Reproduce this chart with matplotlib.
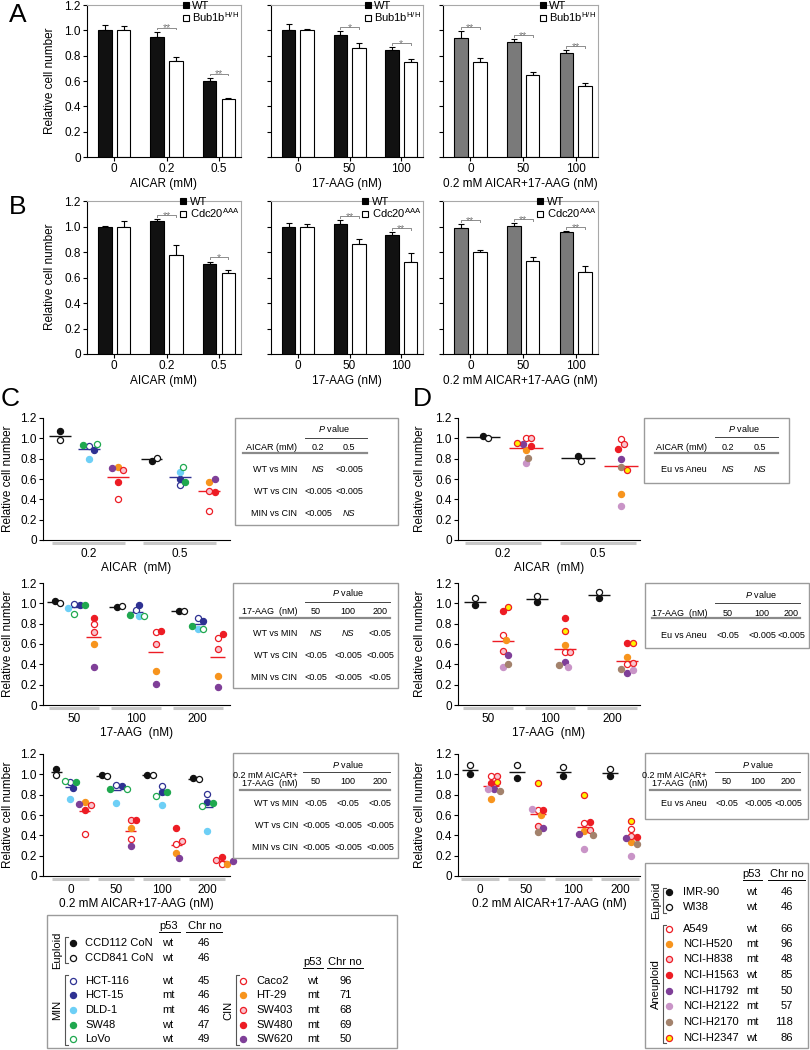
import numpy as np
import matplotlib
matplotlib.use("Agg")
import matplotlib.pyplot as plt
import matplotlib.transforms as mtransforms
from matplotlib.lines import Line2D
from matplotlib.patches import Rectangle

plt.rcParams["font.family"] = ["Liberation Sans", "DejaVu Sans"]
plt.rcParams["mathtext.fontset"] = "custom"
plt.rcParams["mathtext.rm"] = "Liberation Sans"
plt.rcParams["mathtext.it"] = "Liberation Sans:italic"
plt.rcParams["axes.linewidth"] = 0.8

# ------------------------------------------------------------
# Data: bar panels A / B
# ------------------------------------------------------------
AICAR_DOSES = ["0", "0.2", "0.5"]
AAG_DOSES = ["0", "50", "100"]

A1_WT = [1.005, 0.95, 0.60]
A1_WT_ERR = [0.035, 0.04, 0.027]
A1_MUT = [1.005, 0.757, 0.456]
A1_MUT_ERR = [0.027, 0.029, 0.013]
A1_SIG = ["", "**", "**"]

A2_WT = [1.005, 0.96, 0.845]
A2_WT_ERR = [0.043, 0.037, 0.025]
A2_MUT = [1.005, 0.862, 0.75]
A2_MUT_ERR = [0.008, 0.035, 0.025]
A2_SIG = ["", "*", "*"]

A3_WT = [0.936, 0.91, 0.823]
A3_WT_ERR = [0.06, 0.023, 0.021]
A3_MUT = [0.749, 0.649, 0.564]
A3_MUT_ERR = [0.031, 0.023, 0.021]
A3_SIG = ["**", "**", "**"]

B1_WT = [1.00, 1.04, 0.706]
B1_WT_ERR = [0.003, 0.017, 0.019]
B1_MUT = [1.00, 0.777, 0.634]
B1_MUT_ERR = [0.04, 0.078, 0.021]
B1_SIG = ["", "**", "*"]

B2_WT = [1.00, 1.016, 0.93]
B2_WT_ERR = [0.025, 0.034, 0.023]
B2_MUT = [1.00, 0.86, 0.722]
B2_MUT_ERR = [0.018, 0.04, 0.068]
B2_SIG = ["", "**", "**"]

B3_WT = [0.99, 1.003, 0.958]
B3_WT_ERR = [0.028, 0.026, 0.008]
B3_MUT = [0.803, 0.732, 0.644]
B3_MUT_ERR = [0.013, 0.032, 0.05]
B3_SIG = ["**", "**", "**"]

# ------------------------------------------------------------
# Data: colon lines (C)
# ------------------------------------------------------------
C_LINES = ["CCD112 CoN", "CCD841 CoN", "HCT-116", "HCT-15", "DLD-1", "SW48",
           "LoVo", "Caco2", "HT-29", "SW403", "SW480", "SW620"]
C_CLASS = ["Euploid", "Euploid", "MIN", "MIN", "MIN", "MIN", "MIN",
           "CIN", "CIN", "CIN", "CIN", "CIN"]
C_P53 = ["wt", "wt", "wt", "mt", "mt", "wt", "wt", "wt", "mt", "mt", "mt", "mt"]
C_CHR = [46, 46, 45, 46, 46, 47, 49, 96, 71, 68, 69, 50]

C1_DOSES = ["0.2", "0.5"]
C1_VALUES = [
    [1.07, 0.98, 0.92, 0.89, 0.80, 0.93, 0.94, 0.40, 0.72, 0.69, 0.57, 0.71],
    [0.78, 0.81, 0.54, 0.60, 0.67, 0.57, 0.72, 0.29, 0.57, 0.48, 0.47, 0.60],
]
C2_DOSES = ["50", "100", "200"]
C2_VALUES = [
    [1.02, 1.00, 0.99, 0.98, 0.95, 0.98, 0.90, 0.80, 0.60, 0.72, 0.86, 0.37],
    [0.96, 0.97, 0.93, 0.98, 0.88, 0.89, 0.875, 0.72, 0.33, 0.60, 0.73, 0.21],
    [0.92, 0.92, 0.86, 0.83, 0.75, 0.78, 0.75, 0.66, 0.29, 0.55, 0.70, 0.18],
]
C3_DOSES = ["0", "50", "100", "200"]
C3_VALUES = [
    [1.05, 0.99, 0.92, 0.87, 0.76, 0.92, 0.93, 0.41, 0.73, 0.70, 0.65, 0.71],
    [0.99, 0.98, 0.90, 0.89, 0.72, 0.86, 0.86, 0.36, 0.47, 0.55, 0.55, 0.30],
    [0.99, 0.99, 0.89, 0.83, 0.70, 0.83, 0.79, 0.31, 0.23, 0.345, 0.47, 0.18],
    [0.96, 0.95, 0.81, 0.73, 0.44, 0.72, 0.69, 0.12, 0.12, 0.16, 0.19, 0.15],
]

# ------------------------------------------------------------
# Data: lung lines (D)
# ------------------------------------------------------------
D_LINES = ["IMR-90", "WI38", "A549", "NCI-H520", "NCI-H838", "NCI-H1563",
           "NCI-H1792", "NCI-H2122", "NCI-H2170", "NCI-H2347"]
D_CLASS = ["Euploid", "Euploid"] + ["Aneuploid"] * 8
D_P53 = ["wt", "wt", "wt", "mt", "mt", "wt", "mt", "mt", "mt", "wt"]
D_CHR = [46, 46, 66, 96, 48, 85, 50, 57, 118, 86]

D1_VALUES = [
    [1.02, 1.00, 1.00, 0.89, 1.00, 0.92, 0.94, 0.76, 0.81, 0.95],
    [0.83, 0.78, 0.99, 0.45, 0.94, 0.90, 0.80, 0.33, 0.72, 0.69],
]
D2_VALUES = [
    [0.985, 1.05, 0.69, 0.64, 0.53, 0.92, 0.49, 0.37, 0.40, 0.96],
    [1.01, 1.07, 0.52, 0.59, 0.52, 0.86, 0.42, 0.37, 0.39, 0.73],
    [1.05, 1.11, 0.40, 0.47, 0.41, 0.61, 0.31, 0.34, 0.35, 0.61],
]
D3_VALUES = [
    [1.00, 1.09, 0.98, 0.76, 0.98, 0.91, 0.86, 0.86, 0.84, 0.92],
    [0.96, 1.09, 0.65, 0.60, 0.49, 0.65, 0.47, 0.66, 0.43, 0.91],
    [0.98, 1.07, 0.52, 0.44, 0.45, 0.53, 0.41, 0.27, 0.40, 0.80],
    [0.98, 1.05, 0.46, 0.33, 0.39, 0.38, 0.37, 0.20, 0.31, 0.545],
]

# P value tables
C_ROWS = ["WT vs MIN", "WT vs CIN", "MIN vs CIN"]
C1_P = [["NS", "<0.005"], ["<0.005", "<0.005"], ["<0.005", "NS"]]
C2_P = [["NS", "NS", "<0.05"], ["<0.05", "<0.005", "<0.005"], ["<0.05", "<0.005", "<0.05"]]
C3_P = [["<0.05", "<0.05", "<0.05"], ["<0.005", "<0.005", "<0.005"], ["<0.005", "<0.005", "<0.005"]]
D_ROWS = ["Eu vs Aneu"]
D1_P = [["NS", "NS"]]
D2_P = [["<0.05", "<0.005", "<0.005"]]
D3_P = [["<0.05", "<0.005", "<0.005"]]

# ------------------------------------------------------------
# Styles
# ------------------------------------------------------------
BLK, BLUE, SKY, GRN = "#111111", "#2e3192", "#6dcff6", "#1fa84f"
RED, ORG, PINK, PUR = "#ed1c24", "#f7941d", "#f9c5cf", "#7f3f98"
LPUR, BRN, YEL = "#c994c7", "#a3826c", "#fff200"

C_STYLE = [(BLK, BLK), ("white", BLK), ("white", BLUE), (BLUE, BLUE), (SKY, SKY),
           (GRN, GRN), ("white", GRN), ("white", RED), (ORG, ORG), (PINK, RED),
           (RED, RED), (PUR, PUR)]
D_STYLE = [(BLK, BLK), ("white", BLK), ("white", RED), (ORG, ORG), (PINK, RED),
           (RED, RED), (PUR, PUR), (LPUR, LPUR), (BRN, BRN), (YEL, RED)]
MEAN_COL = {"Euploid": BLK, "MIN": BLUE, "CIN": RED, "Aneuploid": RED}

W, H = 810, 1050
fig = plt.figure(figsize=(W / 100, H / 100), dpi=100)


def px_axes(x0, y0, x1, y1):
    return fig.add_axes([x0 / W, 1 - y1 / H, (x1 - x0) / W, (y1 - y0) / H])


YT = np.arange(0, 1.21, 0.2)
YTL = ["0", "0.2", "0.4", "0.6", "0.8", "1.0", "1.2"]
FS = 8.5


def bar_panel(rect, labels, wt, wt_err, mut, mut_err, sig, wt_color, mut_name, xlabel, show_y):
    ax = px_axes(*rect)
    x = np.arange(len(labels))
    ax.bar(x - 0.18, wt, 0.26, color=wt_color, edgecolor="black", linewidth=0.8, zorder=2)
    ax.bar(x + 0.18, mut, 0.26, color="white", edgecolor="black", linewidth=0.8, zorder=2)
    for xs, v, e in ((x - 0.18, wt, wt_err), (x + 0.18, mut, mut_err)):
        ax.errorbar(xs, v, yerr=[np.zeros(len(v)), e], fmt="none", ecolor="black",
                    elinewidth=0.8, capsize=2.5, capthick=0.8, zorder=1)
    for i, s in enumerate(sig):
        if not s:
            continue
        top = max(wt[i] + wt_err[i], mut[i] + mut_err[i]) + 0.032
        ax.plot([i - 0.18, i - 0.18, i + 0.18, i + 0.18], [top - 0.015, top, top, top - 0.015],
                color="#8c8c8c", lw=0.7)
        ax.text(i, top - 0.008, s, ha="center", va="center", fontsize=7.5, color="#7a7a7a")
    ax.set_xlim(-0.52, len(labels) - 0.58)
    ax.set_ylim(0, 1.2)
    ax.set_yticks(YT)
    ax.set_yticklabels(YTL if show_y else [])
    ax.set_xticks(x)
    ax.set_xticklabels(labels)
    ax.tick_params(length=3, width=0.8, labelsize=FS, pad=1.5)
    for sp in ("top", "right"):
        ax.spines[sp].set_color("#a8a8a8")
    ax.set_xlabel(xlabel, fontsize=FS, labelpad=2)
    handles = [Line2D([], [], ls="none", marker="s", ms=5, mfc="black", mec="black", mew=0.8,
                      label="WT"),
               Line2D([], [], ls="none", marker="s", ms=5, mfc="white", mec="black", mew=0.8,
                      label=mut_name)]
    ax.legend(handles=handles, loc="upper right", bbox_to_anchor=(1.0, 1.04), frameon=False,
              fontsize=8, handlelength=0.6, handletextpad=0.3,
              labelspacing=0.0, borderpad=0.15, borderaxespad=0)
    return ax


def swarm(yp, diam=5.4, step=2.8):
    placed, out = [], []
    for y in yp:
        k = 0
        while True:
            c = 0.0 if k == 0 else step * ((k + 1) // 2) * (1 if k % 2 else -1)
            if all((c - px) ** 2 + (y - py) ** 2 >= diam ** 2 for px, py in placed):
                break
            k += 1
        placed.append((c, y))
        out.append(c)
    return np.array(out)


def scatter_panel(rect, doses, values, classes, styles, subpos, half, xlim, xlabel):
    x0, y0, x1, y1 = rect
    ax = px_axes(*rect)
    ax.set_xlim(*xlim)
    ax.set_ylim(0, 1.2)
    xpx = (x1 - x0) / (xlim[1] - xlim[0])
    ypx = (y1 - y0) / 1.2
    trans = mtransforms.blended_transform_factory(ax.transData, ax.transAxes)
    for g, vals in enumerate(values):
        for cls, off in subpos.items():
            idx = [i for i, c in enumerate(classes) if c == cls]
            ys = np.array([vals[i] for i in idx])
            dx = swarm(ys * ypx) / xpx
            cx = g + off
            m = ys.mean()
            ax.plot([cx - half, cx + half], [m, m], color=MEAN_COL[cls], lw=1.0, zorder=2,
                    solid_capstyle="butt")
            for k, i in enumerate(idx):
                fc, ec = styles[i]
                ax.plot(cx + dx[k], ys[k], "o", ms=4.4, mfc=fc, mec=ec, mew=0.9, zorder=3,
                        clip_on=False)
        ax.plot([g - 0.4, g + 0.4], [-0.028, -0.028], transform=trans, color="#c8c8c8",
                lw=2.2, clip_on=False, solid_capstyle="butt")
    ax.set_xticks(range(len(doses)))
    ax.set_xticklabels(doses)
    ax.tick_params(axis="x", length=0, pad=6, labelsize=FS)
    ax.tick_params(axis="y", length=3, width=0.8, labelsize=FS, pad=1.5)
    ax.set_yticks(YT)
    ax.set_yticklabels(YTL)
    ax.spines["top"].set_visible(False)
    ax.spines["right"].set_visible(False)
    ax.set_xlabel(xlabel, fontsize=FS, labelpad=1)
    return ax


# ---- A ----
bar_panel((87, 5, 241, 157), AICAR_DOSES, A1_WT, A1_WT_ERR, A1_MUT, A1_MUT_ERR, A1_SIG,
          "#111111", r"Bub1b$^{\mathregular{H/H}}$", "AICAR (mM)", True)
bar_panel((271, 5, 423, 157), AAG_DOSES, A2_WT, A2_WT_ERR, A2_MUT, A2_MUT_ERR, A2_SIG,
          "#111111", r"Bub1b$^{\mathregular{H/H}}$", "17-AAG (nM)", False)
bar_panel((443, 5, 598, 157), AAG_DOSES, A3_WT, A3_WT_ERR, A3_MUT, A3_MUT_ERR, A3_SIG,
          "#7a7a7a", r"Bub1b$^{\mathregular{H/H}}$", "0.2 mM AICAR+17-AAG (nM)", False)
# ---- B ----
bar_panel((87, 201, 241, 354), AICAR_DOSES, B1_WT, B1_WT_ERR, B1_MUT, B1_MUT_ERR, B1_SIG,
          "#111111", r"Cdc20$^{\mathregular{AAA}}$", "AICAR (mM)", True)
bar_panel((271, 201, 423, 354), AAG_DOSES, B2_WT, B2_WT_ERR, B2_MUT, B2_MUT_ERR, B2_SIG,
          "#111111", r"Cdc20$^{\mathregular{AAA}}$", "17-AAG (nM)", False)
bar_panel((443, 201, 598, 354), AAG_DOSES, B3_WT, B3_WT_ERR, B3_MUT, B3_MUT_ERR, B3_SIG,
          "#7a7a7a", r"Cdc20$^{\mathregular{AAA}}$", "0.2 mM AICAR+17-AAG (nM)", False)

# ---- C ----
C_SUB = {"Euploid": -0.31, "MIN": 0.0, "CIN": 0.32}
scatter_panel((43, 418, 230, 540), C1_DOSES, C1_VALUES, C_CLASS, C_STYLE, C_SUB, 0.12,
              (-0.5, 1.55), "AICAR  (mM)")
scatter_panel((43, 583, 230, 705), C2_DOSES, C2_VALUES, C_CLASS, C_STYLE, C_SUB, 0.12,
              (-0.5, 2.52), "17-AAG  (nM)")
scatter_panel((43, 754, 230, 876), C3_DOSES, C3_VALUES, C_CLASS, C_STYLE, C_SUB, 0.12,
              (-0.6, 3.5), "0.2 mM AICAR+17-AAG (nM)")
# ---- D ----
D_SUB = {"Euploid": -0.21, "Aneuploid": 0.24}
scatter_panel((458, 418, 640, 540), C1_DOSES, D1_VALUES, D_CLASS, D_STYLE, D_SUB, 0.18,
              (-0.47, 1.44), "AICAR  (mM)")
scatter_panel((458, 583, 640, 705), C2_DOSES, D2_VALUES, D_CLASS, D_STYLE, D_SUB, 0.18,
              (-0.48, 2.45), "17-AAG  (nM)")
scatter_panel((458, 754, 640, 876), C3_DOSES, D3_VALUES, D_CLASS, D_STYLE, D_SUB, 0.17,
              (-0.47, 3.43), "0.2 mM AICAR+17-AAG (nM)")

# ------------------------------------------------------------
# Overlay in pixel coordinates: letters, y labels, tables, legends
# ------------------------------------------------------------
ov = fig.add_axes([0, 0, 1, 1])
ov.set_xlim(0, W)
ov.set_ylim(H, 0)
ov.set_autoscale_on(False)
ov.axis("off")

for letter, lx, ly in (("A", 18, 15), ("B", 18, 207), ("C", 10, 399), ("D", 422, 399)):
    ov.text(lx, ly, letter, ha="center", va="center", fontsize=19)

for yx, yc in ((50, 81), (50, 277), (8, 479), (8, 644), (8, 815),
               (420, 479), (420, 644), (420, 815)):
    ov.text(yx, yc, "Relative cell number", rotation=90, ha="center", va="center", fontsize=FS)


def p_table(bx, cols_x, label_r, pv_y, pl_y, pl_x, head, head_ys, col_names, col_y,
            th_y, th_x, row_names, row_ys, cells):
    x0, y0, x1, y1 = bx
    ov.add_patch(Rectangle((x0, y0), x1 - x0, y1 - y0, fill=False, ec="#9b9b9b", lw=1.0))
    ov.text(np.mean(cols_x), pv_y, r"$\mathit{P}$ value", ha="center", va="center", fontsize=6.5)
    ov.plot(pl_x, [pl_y, pl_y], color="#444444", lw=0.7)
    for t, yy in zip(head, head_ys):
        ov.text(label_r, yy, t, ha="right", va="center", fontsize=6.5)
    for cx, c in zip(cols_x, col_names):
        ov.text(cx, col_y, c, ha="center", va="center", fontsize=6.5)
    ov.plot(th_x, [th_y, th_y], color="#8a8a8a", lw=1.6)
    for rn, ry, rv in zip(row_names, row_ys, cells):
        ov.text(label_r, ry, rn, ha="right", va="center", fontsize=6.5)
        for cx, v in zip(cols_x, rv):
            ov.text(cx, ry, v, ha="center", va="center", fontsize=6.5,
                    style="italic" if v == "NS" else "normal")


p_table((235, 418, 398, 525), [318, 349], 297, 429, 438, [305, 367], ["AICAR (mM)"], [447],
        C1_DOSES, 447, 453, [243, 367], C_ROWS, [469, 491, 513], C1_P)
p_table((233, 583, 398, 688), [316, 348, 380], 297, 593, 602, [305, 390], ["17-AAG  (nM)"], [612],
        C2_DOSES, 612, 618, [240, 390], C_ROWS, [634, 656, 677], C2_P)
p_table((233, 753, 398, 858), [316, 348, 380], 298, 764, 772, [303, 390],
        ["0.2 mM AICAR+", "17-AAG  (nM)"], [775, 784], C2_DOSES, 782, 790, [240, 390],
        C_ROWS, [803, 826, 847], C3_P)
p_table((644, 418, 789, 483), [728, 760], 707, 428, 437, [715, 778], ["AICAR (mM)"], [447],
        C1_DOSES, 447, 453, [655, 778], D_ROWS, [469], D1_P)
p_table((645, 583, 809, 648), [728, 762, 791], 707, 594, 603, [715, 800], ["17-AAG  (nM)"], [613],
        C2_DOSES, 613, 618, [652, 800], D_ROWS, [635], D2_P)
p_table((645, 753, 808, 819), [727, 758, 788], 707, 764, 772, [715, 800],
        ["0.2 mM AICAR+", "17-AAG  (nM)"], [775, 784], C2_DOSES, 782, 790, [650, 800],
        D_ROWS, [804], D3_P)


def legend_rows(idx, names, styles, p53, chrn, ys, mx, nx, px_, cx):
    for i, y in zip(idx, ys):
        fc, ec = styles[i]
        ov.plot(mx, y, "o", ms=4.4, mfc=fc, mec=ec, mew=0.9)
        ov.text(nx, y, names[i], ha="left", va="center", fontsize=8)
        ov.text(px_, y, p53[i], ha="center", va="center", fontsize=8)
        ov.text(cx, y, str(chrn[i]), ha="right", va="center", fontsize=8)


def header(px_, cx, y, p_span, c_span):
    ov.text(px_, y, "p53", ha="center", va="center", fontsize=8)
    ov.text(cx, y, "Chr no", ha="center", va="center", fontsize=8)
    ov.plot(p_span, [y + 5.5, y + 5.5], color="black", lw=0.7)
    ov.plot(c_span, [y + 5.5, y + 5.5], color="black", lw=0.7)


def bracket(x, ya, yb, label, lx):
    ov.plot([x + 3, x, x, x + 3], [ya, ya, yb, yb], color="#555555", lw=0.8)
    ov.text(lx, (ya + yb) / 2, label, rotation=90, ha="center", va="center", fontsize=8)


# legend C
ov.add_patch(Rectangle((47, 915), 350, 133, fill=False, ec="#9b9b9b", lw=1.0))
header(169, 205, 926, [159, 180], [186, 222])
legend_rows(range(7), C_LINES, C_STYLE, C_P53, C_CHR,
            [943, 958, 981, 995, 1010, 1025, 1039], 73, 85, 168, 210)
header(313, 345, 962, [303, 323], [327, 363])
legend_rows(range(7, 12), C_LINES, C_STYLE, C_P53, C_CHR,
            [981, 995, 1010, 1025, 1039], 243, 256, 313, 352)
bracket(65, 937, 963, "Euploid", 57)
bracket(65, 975, 1045, "MIN", 57)
bracket(236, 975, 1045, "CIN", 228)

# legend D
ov.add_patch(Rectangle((645, 863), 163, 185, fill=False, ec="#9b9b9b", lw=1.0))
header(752, 787, 874, [743, 762], [768, 805])
legend_rows(range(10), D_LINES, D_STYLE, D_P53, D_CHR,
            [892, 907, 929, 944, 959, 975, 991, 1006, 1022, 1038], 669, 683, 752, 793)
bracket(663, 888, 913, "Euploid", 656)
bracket(663, 925, 1043, "Aneuploid", 656)

fig.savefig("out.png", dpi=100)
